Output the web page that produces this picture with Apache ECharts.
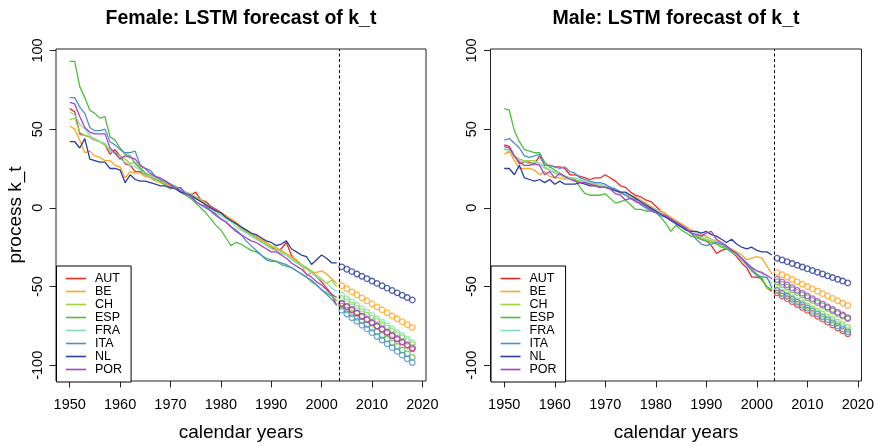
<!DOCTYPE html>
<html><head><meta charset="utf-8">
<script src="https://cdn.jsdelivr.net/npm/echarts@6/dist/echarts.min.js"></script>
<style>html,body{margin:0;padding:0;background:#fff}#c{width:880px;height:446px}</style>
</head><body><div id="c"></div>
<script>
const countries = ['AUT','BE','CH','ESP','FRA','ITA','NL','POR'];
const countryColors = ['#ec2a22','#ffa51f','#9dd43c','#4fbe3c','#84e0b4','#4e8fd4','#2b3ea3','#a642cc'];
const firstYear = 1950, lastHistYear = 2003, lastFcYear = 2018;
const histYears = []; for (let y = firstYear; y <= lastHistYear; y++) histYears.push(y);
const fcYears = []; for (let y = lastHistYear + 1; y <= lastFcYear; y++) fcYears.push(y);
const xTicks = [1950,1960,1970,1980,1990,2000,2010,2020];
const yTicks = [-100,-50,0,50,100];
const forecastStart = 2003.5;
const panelTitles = ['Female: LSTM forecast of k_t','Male: LSTM forecast of k_t'];

// Female history 1950-2003
const femaleHistAUT = [63,61,47,46,45,43,42,40,34,37, 33,28,27,23,23,21,20,19,18,16, 14,13,12,10,8,10,5,4,1,-1, -3,-5,-8,-10,-13,-15,-17,-19,-21,-23, -25,-27,-26,-22,-30,-34,-37,-38,-41,-44, -47,-51,-55,-62];
const femaleHistBE  = [52,50,43,35,36,33,32,30,30,27, 26,19,23,22,22,20,19,17,16,15, 14,13,11,10,8,6,5,2,0,-2, -3,-5,-7,-9,-12,-14,-16,-18,-20,-22, -24,-26,-27,-29,-31,-33,-36,-43,-41,-41, -40,-42,-45,-48];
const femaleHistCH  = [56,57,48,46,45,44,42,40,36,35, 33,31,28,29,26,22,21,20,18,16, 15,14,12,10,9,7,5,3,0,-2, -4,-6,-8,-10,-13,-15,-17,-19,-21,-23, -25,-25,-28,-30,-32,-34,-36,-38,-40,-43, -45,-48,-46,-50];
const femaleHistESP = [93,93,77,70,62,60,57,58,45,43, 38,34,33,28,25,22,20,18,17,14, 12,13,10,8,6,3,0,-3,-7,-11, -14,-19,-24,-22,-23,-25,-27,-28,-30,-32, -33,-34,-36,-37,-38,-40,-42,-44,-47,-49, -52,-54,-56,-59];
const femaleHistFRA = [61,59,53,50,46,43,42,41,37,34, 31,29,27,26,24,21,20,19,18,17, 15,13,12,10,8,6,4,2,-1,-3, -5,-7,-9,-12,-14,-16,-18,-20,-22,-24, -26,-27,-29,-30,-33,-35,-37,-39,-41,-44, -46,-48,-51,-53];
const femaleHistITA = [70,70,64,60,51,49,49,50,42,40, 37,35,35,36,27,25,24,20,18,17, 15,13,11,9,7,4,2,0,-2,-5, -7,-9,-12,-14,-17,-21,-24,-27,-30,-33, -34,-34,-35,-36,-38,-40,-42,-44,-46,-49, -52,-55,-58,-62];
const femaleHistNL  = [42,42,38,44,31,30,29,29,25,25, 24,16,21,18,17,17,16,15,14,14, 13,12,10,9,8,6,4,2,0,-2, -3,-6,-8,-10,-12,-14,-16,-17,-19,-21, -22,-24,-23,-21,-26,-28,-30,-31,-36,-33, -30,-32,-35,-35];
const femaleHistPOR = [67,66,58,51,48,47,47,47,38,35, 31,33,32,31,27,25,22,20,19,17, 15,12,13,9,8,4,2,1,-2,-4, -7,-9,-12,-15,-17,-19,-21,-22,-24,-26, -28,-28,-30,-32,-35,-37,-39,-42,-44,-47, -49,-52,-55,-57];

// Female forecast 2004-2018
const femaleFcAUT = [-61,-63,-65,-67,-69,-71,-73,-75,-77,-79,-81,-83,-85,-87,-89];
const femaleFcBE  = [-49.5,-51.5,-53.4,-55.3,-57.2,-59.1,-61,-62.9,-64.8,-66.7,-68.6,-70.5,-72.3,-74.2,-76];
const femaleFcCH  = [-57.5,-59.6,-61.7,-63.8,-65.9,-68,-70.1,-72.2,-74.3,-76.4,-78.5,-80.6,-82.7,-84.8,-86.9];
const femaleFcESP = [-62.5,-64.8,-67.1,-69.5,-71.8,-74.1,-76.4,-78.8,-81.1,-83.4,-85.7,-88,-90.4,-92.7,-95];
const femaleFcFRA = [-55.5,-57.7,-59.8,-62,-64.1,-66.3,-68.4,-70.6,-72.7,-74.9,-77,-79.2,-81.3,-83.5,-85.6];
const femaleFcITA = [-65,-67.4,-69.8,-72.1,-74.5,-76.9,-79.3,-81.7,-84,-86.4,-88.8,-91.2,-93.6,-95.9,-98.3];
const femaleFcNL  = [-37.5,-39,-40.5,-42,-43.5,-45,-46.5,-48,-49.5,-51,-52.5,-54,-55.5,-57,-58.5];
const femaleFcPOR = [-60.5,-62.6,-64.6,-66.7,-68.8,-70.9,-72.9,-75,-77.1,-79.1,-81.2,-83.3,-85.4,-87.4,-89.5];

// Male history 1950-2003
const maleHistAUT = [40,39,33,28,29,29,28,33,27,27, 26,26,25,21,21,20,19,18,19,19, 21,19,17,14,13,10,8,7,5,4, 1,-2,-4,-7,-9,-11,-13,-16,-18,-20, -21,-24,-29,-27,-26,-28,-31,-35,-38,-44, -44,-45,-51,-53];
const maleHistBE  = [34,36,30,25,25,25,24,21,23,20, 19,19,18,19,17,17,16,15,15,14, 13,13,11,10,9,8,7,5,3,1, -1,-2,-4,-6,-8,-10,-12,-14,-16,-17, -18,-20,-21,-23,-25,-26,-28,-30,-33,-32, -31,-32,-37,-42];
const maleHistCH  = [37,37,33,31,30,30,30,28,26,24, 22,21,19,19,18,17,17,16,15,14, 14,13,11,9,8,6,4,3,1,-1, -2,-4,-6,-8,-10,-12,-14,-16,-18,-19, -20,-21,-22,-24,-26,-28,-30,-33,-36,-40, -42,-44,-51,-52];
const maleHistESP = [63,62,49,42,37,36,35,35,29,26, 24,22,20,19,18,13,9,8,8,8, 9,6,3,4,5,2,-1,-1,-2,-2, -3,-6,-10,-15,-11,-14,-16,-18,-19,-20, -21,-22,-23,-25,-26,-28,-30,-33,-36,-39, -42,-46,-50,-52];
const maleHistFRA = [38,36,32,30,29,28,29,28,25,24, 23,22,20,19,19,18,17,16,16,15, 14,13,12,10,9,7,6,4,2,0, -1,-3,-5,-7,-9,-11,-13,-15,-16,-18, -19,-20,-22,-23,-25,-27,-30,-33,-35,-38, -40,-42,-45,-48];
const maleHistITA = [43,44,41,38,33,32,33,34,27,27, 26,25,26,23,22,19,18,17,16,16, 15,13,12,10,8,6,5,2,0,-2, -3,-5,-6,-8,-10,-12,-14,-16,-20,-23, -24,-23,-22,-23,-25,-27,-29,-32,-36,-40, -43,-44,-44,-51];
const maleHistNL  = [25,25,21,27,19,18,17,18,16,18, 15,17,15,15,15,16,15,14,14,13, 13,12,11,10,10,8,6,4,2,0, -2,-4,-6,-8,-10,-12,-14,-15,-15,-16, -15,-17,-18,-20,-22,-20,-23,-25,-26,-25, -27,-28,-28,-30];
const maleHistPOR = [39,38,33,29,27,27,28,27,21,23, 19,22,20,18,17,16,16,15,14,13, 13,12,9,8,5,6,4,3,1,-1, -3,-4,-5,-7,-9,-11,-13,-16,-17,-18, -16,-15,-20,-22,-24,-27,-29,-32,-35,-38, -40,-41,-43,-45];

// Male forecast 2004-2018
const maleFcAUT = [-54,-55.9,-57.7,-59.6,-61.4,-63.3,-65.1,-67,-68.9,-70.7,-72.6,-74.4,-76.3,-78.1,-80];
const maleFcBE  = [-41,-42.5,-44,-45.5,-47,-48.5,-50,-51.5,-53,-54.5,-56,-57.5,-59,-60.5,-62];
const maleFcCH  = [-52,-53.7,-55.4,-57.1,-58.9,-60.6,-62.3,-64,-65.7,-67.4,-69.1,-70.9,-72.6,-74.3,-76];
const maleFcESP = [-47,-48.7,-50.4,-52,-53.7,-55.4,-57.1,-58.8,-60.4,-62.1,-63.8,-65.5,-67.2,-68.8,-70.5];
const maleFcFRA = [-52.5,-54.3,-56.1,-57.9,-59.6,-61.4,-63.2,-65,-66.8,-68.6,-70.4,-72.1,-73.9,-75.7,-77.5];
const maleFcITA = [-52.5,-54.4,-56.2,-58.1,-60,-61.9,-63.7,-65.6,-67.5,-69.4,-71.2,-73.1,-75,-76.9,-78.7];
const maleFcNL  = [-32,-33.1,-34.2,-35.4,-36.5,-37.6,-38.7,-39.8,-40.9,-42,-43.2,-44.3,-45.4,-46.5,-47.7];
const maleFcPOR = [-45.5,-47.2,-49,-50.7,-52.4,-54.2,-55.9,-57.7,-59.4,-61.1,-62.9,-64.6,-66.3,-68.1,-69.8];

const femaleHist = [femaleHistAUT,femaleHistBE,femaleHistCH,femaleHistESP,femaleHistFRA,femaleHistITA,femaleHistNL,femaleHistPOR];
const femaleFc = [femaleFcAUT,femaleFcBE,femaleFcCH,femaleFcESP,femaleFcFRA,femaleFcITA,femaleFcNL,femaleFcPOR];
const maleHist = [maleHistAUT,maleHistBE,maleHistCH,maleHistESP,maleHistFRA,maleHistITA,maleHistNL,maleHistPOR];
const maleFc = [maleFcAUT,maleFcBE,maleFcCH,maleFcESP,maleFcFRA,maleFcITA,maleFcNL,maleFcPOR];

const FONT = '"Liberation Sans", Arial, Helvetica, sans-serif';
const pairs = (xs, ys) => xs.map((x, i) => [x, ys[i]]);

const grids = [
  {left: 56, top: 49, width: 370, height: 332},
  {left: 490.5, top: 49, width: 371, height: 332}
];
const centers = grids.map(g => g.left + g.width / 2);

const series = [];
[[femaleHist, femaleFc], [maleHist, maleFc]].forEach(([hist, fc], p) => {
  countries.forEach((c, i) => {
    const s = {
      type: 'line', name: c, xAxisIndex: p, yAxisIndex: p,
      data: pairs(histYears, hist[i]), symbol: 'none', silent: true,
      lineStyle: {color: countryColors[i], width: 1.3},
      itemStyle: {color: countryColors[i]}, z: 2
    };
    if (i === 0) {
      s.markLine = {
        silent: true, symbol: 'none', label: {show: false}, animation: false,
        lineStyle: {color: '#000', type: [3, 2.5], width: 1},
        data: [{xAxis: forecastStart}]
      };
    }
    series.push(s);
  });
  countries.forEach((c, i) => {
    series.push({
      type: 'scatter', name: c + ' forecast', xAxisIndex: p, yAxisIndex: p,
      data: pairs(fcYears, fc[i]), symbol: 'circle', symbolSize: 5.6, silent: true,
      itemStyle: {color: 'rgba(255,255,255,0)', borderColor: countryColors[i], borderWidth: 1.3}, z: 3
    });
  });
});

const xAxes = grids.map((g, p) => ({
  type: 'value', gridIndex: p, min: 1947.28, max: 2020.72, position: 'bottom',
  axisLine: {show: false, onZero: false},
  axisTick: {show: true, customValues: xTicks, length: 6.5, lineStyle: {color: '#222', width: 1}},
  axisLabel: {customValues: xTicks, fontSize: 14.5, color: '#000', margin: 16, fontFamily: FONT,
              formatter: v => String(v)},
  splitLine: {show: false},
  name: 'calendar years', nameLocation: 'middle', nameGap: 42,
  nameTextStyle: {fontSize: 19, color: '#000', fontFamily: FONT}
}));
const yAxes = grids.map((g, p) => ({
  type: 'value', gridIndex: p, min: -110, max: 100.9, position: 'left',
  axisLine: {show: false, onZero: false},
  axisTick: {show: true, customValues: yTicks, length: 6.5, lineStyle: {color: '#222', width: 1}},
  axisLabel: {customValues: yTicks, fontSize: 14.5, color: '#000', margin: 11, rotate: 90, fontFamily: FONT,
              formatter: v => String(v)},
  splitLine: {show: false},
  name: p === 0 ? 'process k_t' : '', nameLocation: 'middle', nameGap: 31,
  nameTextStyle: {fontSize: 19, color: '#000', fontFamily: FONT}
}));

const legends = grids.map(g => ({
  data: countries.map(n => ({name: n, icon: 'rect'})),
  orient: 'vertical', left: g.left + 0.5, top: 266,
  itemWidth: 20, itemHeight: 1.6, itemGap: 0,
  padding: [6, 9, 6, 9.5],
  borderColor: '#000', borderWidth: 1, backgroundColor: '#fff',
  selectedMode: false,
  textStyle: {fontSize: 12.5, lineHeight: 12.9, color: '#000', fontFamily: FONT, padding: [0, 0, 0, 4]}
}));

const graphics = panelTitles.map((t, p) => ({
  type: 'text', x: centers[p], y: 19, silent: true,
  style: {text: t, font: 'bold 19.5px ' + FONT, fill: '#000', align: 'center', verticalAlign: 'middle', textAlign: 'center', textVerticalAlign: 'middle'}
}));

const chart = echarts.init(document.getElementById('c'), null, {renderer: 'canvas'});
chart.setOption({
  animation: false,
  backgroundColor: '#fff',
  grid: grids.map(g => Object.assign({show: true, borderColor: '#222', borderWidth: 1, backgroundColor: 'transparent', outerBoundsMode: 'none', containLabel: false}, g)),
  xAxis: xAxes,
  yAxis: yAxes,
  legend: legends,
  graphic: graphics,
  series: series
});
</script></body></html>
